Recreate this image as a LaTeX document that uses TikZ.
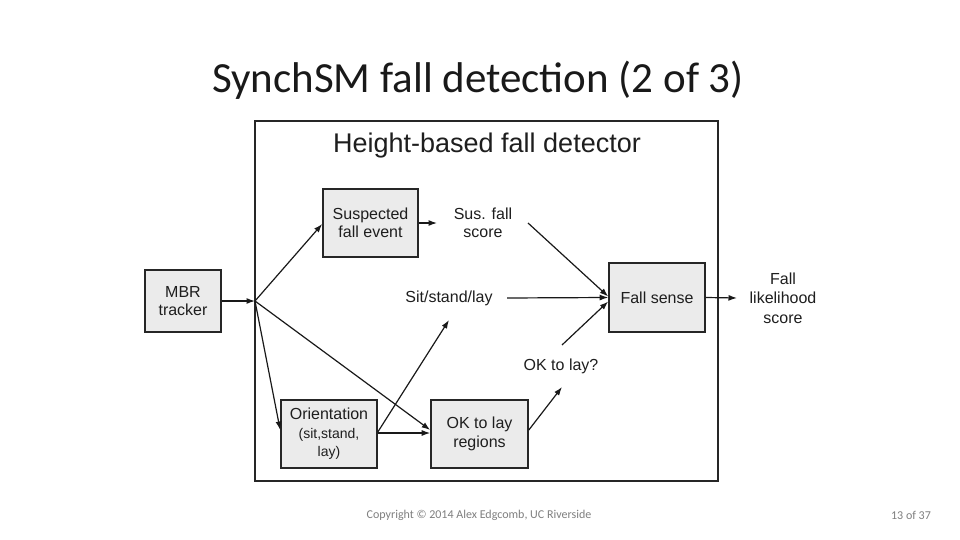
\documentclass[tikz,border=0pt]{standalone}
\usepackage{fontspec}
\setmainfont{Liberation Sans}
\newfontfamily\slidefont{Carlito}
\usetikzlibrary{arrows.meta}
\definecolor{boxfill}{HTML}{EBEBEB}
\definecolor{boxline}{HTML}{262626}
\definecolor{txt}{HTML}{1E1E1E}
\definecolor{foot}{HTML}{7F7F7F}
\tikzset{
  blk/.style={draw=boxline, fill=boxfill, line width=1.6pt, inner sep=0pt, align=center, text=txt,
    font=\fontsize{16}{18.5}\selectfont},
  lbl/.style={inner sep=0pt, align=center, text=txt, font=\fontsize{16}{18.5}\selectfont},
  arr/.style={line width=1.2pt, draw=black!90, -{Latex[length=8.5pt,width=6pt]}},
}
\begin{document}
\begin{tikzpicture}[x=1pt,y=-1pt]
\useasboundingbox (0,0) rectangle (960,540);
\fill[white] (0,0) rectangle (960,540);
% slide title
\node[font=\slidefont\fontsize{43}{50}\selectfont, text=black!90] (title) at (478,80) {SynchSM fall detection (2 of 3)};
% frame
\node[draw=boxline, line width=1.8pt, minimum width=463pt, minimum height=360pt, inner sep=0pt] (frame) at (486.5,301) {};
\node[font=\fontsize{27}{30}\selectfont, text=txt, inner sep=0pt] (htitle) at (487,146) {Height-based fall detector};
% blocks
\node[blk, minimum width=76pt, minimum height=62pt] (mbr) at (183,301) {MBR\\tracker};
\node[blk, minimum width=95pt, minimum height=68pt] (sus) at (370.5,223) {Suspected\\fall event};
\node[blk, minimum width=96pt, minimum height=69pt] (fall) at (657,297.5) {Fall sense};
\node[blk, minimum width=96pt, minimum height=68pt] (orient) at (329,434) {Orientation\\{\fontsize{14}{16}\selectfont (sit,stand,}\\{\fontsize{14}{16}\selectfont lay)}};
\node[blk, minimum width=97pt, minimum height=68pt] (oklay) at (479.5,434) {OK to lay\\regions};
% labels
\node[lbl] (suslbl) at (483,223) {Sus. fall\\score};
\node[lbl] (sitlbl) at (449,298) {Sit/stand/lay};
\node[lbl] (oklbl) at (561,366) {OK to lay?};
\node[lbl, font=\fontsize{16}{19.5}\selectfont] (likelbl) at (783,298) {Fall\\likelihood\\score};
% free ends
\coordinate (J) at (255,301);
\coordinate (susin) at (437,223);
\coordinate (susout) at (528,223);
\coordinate (sitin) at (449,320);
\coordinate (sitout) at (507,298);
\coordinate (okin) at (562,387);
\coordinate (okout) at (562,345);
\coordinate (likin) at (737,298);
% connectors
\draw[arr] (mbr.east) -- (J);
\draw[arr] (J) -- ([yshift=-1pt]sus.west);
\draw[arr] (J) -- ([yshift=4pt]orient.west);
\draw[arr] (J) -- ([yshift=4pt]oklay.west);
\draw[arr] ([yshift=1pt]orient.east) -- ([yshift=1pt]oklay.west);
\draw[arr] ([yshift=2pt]orient.east) -- (sitin);
\draw[arr] (sus.east) -- (susin);
\draw[arr] (susout) -- ([yshift=1pt]fall.west);
\draw[arr] (sitout) -- (fall.west);
\draw[arr] ([yshift=4pt]oklay.east) -- (okin);
\draw[arr] (okout) -- ([yshift=-4pt]fall.west);
\draw[arr] (fall.east) -- (likin);
% footer
\node[font=\slidefont\fontsize{12}{14}\selectfont, text=foot, inner sep=0pt] (copy) at (479,515) {Copyright © 2014 Alex Edgcomb, UC Riverside};
\node[font=\slidefont\fontsize{12}{14}\selectfont, text=foot, inner sep=0pt] (page) at (911,515) {13 of 37};
\end{tikzpicture}
\end{document}
